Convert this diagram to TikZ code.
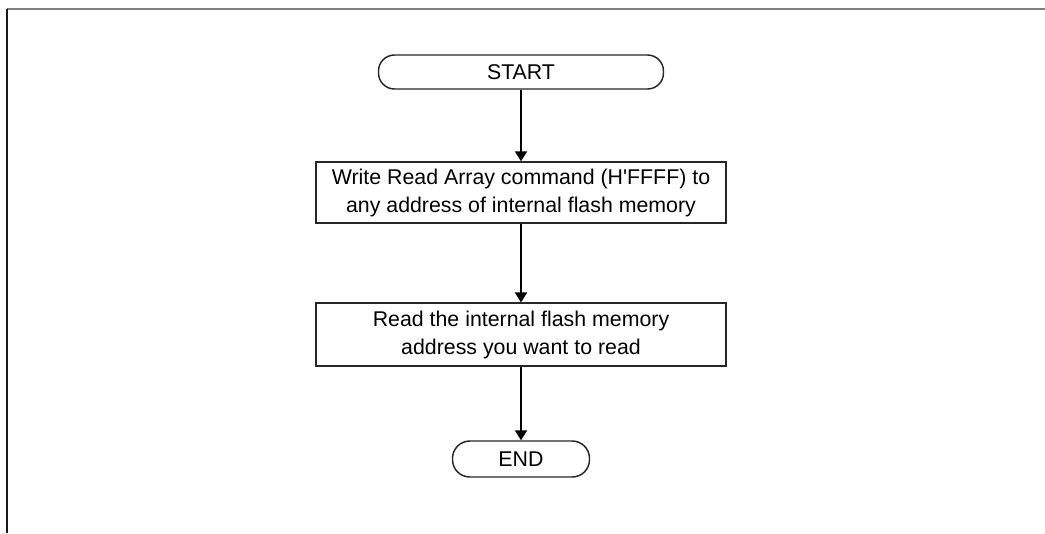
\documentclass[tikz,border=0pt]{standalone}
\usepackage{fontspec}
\setmainfont{Liberation Sans}[Ligatures=TeXOff]
\usetikzlibrary{arrows.meta}
\begin{document}
\begin{tikzpicture}[x=0.75pt,y=-0.75pt,
  every node/.style={font=\fontsize{16}{21}\selectfont, text=black},
  terminal/.style={draw=black!85, line width=1.1pt, rounded corners=12pt, inner sep=0pt, align=center},
  procbox/.style={draw=black!85, line width=1.1pt, inner sep=0pt, align=center, minimum width=307.5pt},
  flow/.style={line width=1.5pt, -{Triangle[width=9pt,length=7.5pt]}},
  frametop/.style={draw=black!50, line width=1.5pt},
  frameleft/.style={draw=black!90, line width=1.5pt}]
\useasboundingbox (0,0) rectangle (1045,533);
\coordinate (ftl) at (6.5,8.5);
\coordinate (ftr) at (1045,8.5);
\coordinate (fbl) at (6.5,533);
\draw[frametop] (ftl) -- (ftr);
\draw[frameleft] (ftl) -- (fbl);
\node[terminal, minimum width=213.75pt, minimum height=25.5pt] (start) at (521,72) {START};
\node[procbox, minimum height=45.75pt] (b1) at (521,192.5) {Write Read Array command (H'FFFF) to\\any address of internal flash memory};
\node[procbox, minimum height=47pt] (b2) at (521,334.5) {Read the internal flash memory\\address you want to read};
\node[terminal, minimum width=102.75pt, minimum height=27pt, rounded corners=13pt] (end) at (521,459) {END};
\draw[flow] (start) -- (b1);
\draw[flow] (b1) -- (b2);
\draw[flow] (b2) -- (end);
\end{tikzpicture}
\end{document}
